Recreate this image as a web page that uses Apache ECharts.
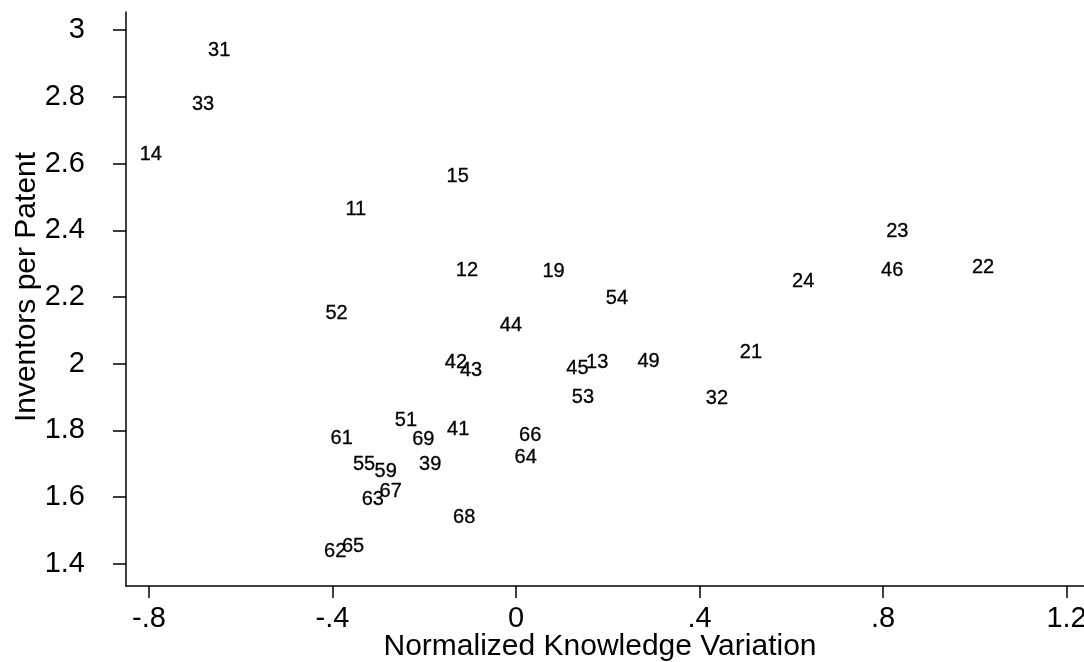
<!DOCTYPE html>
<html>
<head>
<meta charset="utf-8">
<script src="https://cdn.jsdelivr.net/npm/echarts@6/dist/echarts.min.js"></script>
<style>
html,body{margin:0;padding:0;background:#fff;}
#chart{width:1084px;height:662px;}
</style>
</head>
<body>
<div id="chart"></div>
<script>
// Industry/region labels
var labels = ['31','33','14','15','11','12','19','52','44','54','23','46','22','24','21',
  '42','43','45','13','49','53','32','51','61','69','41','66','64','55','59','39','63','67','68','62','65'];
// Normalized Knowledge Variation
var xValues = [-0.647,-0.682,-0.796,-0.127,-0.349,-0.107,0.082,-0.391,-0.011,0.220,0.831,0.820,1.018,0.626,0.512,
  -0.131,-0.098,0.134,0.177,0.289,0.146,0.438,-0.240,-0.380,-0.202,-0.126,0.031,0.021,-0.331,-0.284,-0.187,-0.312,-0.273,-0.113,-0.394,-0.355];
// Inventors per Patent
var yValues = [2.938,2.777,2.628,2.560,2.461,2.278,2.277,2.150,2.116,2.196,2.396,2.279,2.287,2.245,2.034,
  2.004,1.981,1.986,2.003,2.008,1.899,1.896,1.829,1.775,1.772,1.804,1.784,1.718,1.699,1.677,1.697,1.594,1.617,1.540,1.437,1.452];
var xTicks = [-0.8,-0.4,0,0.4,0.8,1.2];
var xTickLabels = ['-.8','-.4','0','.4','.8','1.2'];
var yTicks = [1.4,1.6,1.8,2,2.2,2.4,2.6,2.8,3];
var yTickLabels = ['1.4','1.6','1.8','2','2.2','2.4','2.6','2.8','3'];

var FONT = '"Liberation Sans", Arial, Helvetica, sans-serif';
var data = labels.map(function(l,i){ return {value:[xValues[i], yValues[i]], name:l}; });

function fmt(ticks, lbls){
  return function(v){
    for (var i=0;i<ticks.length;i++){ if (Math.abs(ticks[i]-v)<1e-6) return lbls[i]; }
    return '';
  };
}

var chart = echarts.init(document.getElementById('chart'), null, {renderer:'canvas'});
chart.setOption({
  animation:false,
  backgroundColor:'#fff',
  grid:{left:126, right:0, top:12, bottom:76, containLabel:false, outerBoundsMode:'none'},
  xAxis:{
    type:'value', min:-0.850, max:1.238,
    name:'Normalized Knowledge Variation', nameLocation:'middle', nameGap:46, nameMoveOverlap:false,
    nameTextStyle:{color:'#000', fontSize:30, fontFamily:FONT, padding:[0,10,0,0]},
    axisLine:{show:true, onZero:false, lineStyle:{color:'#000', width:1.5}},
    axisTick:{show:true, length:12, customValues:xTicks, lineStyle:{color:'#000', width:1.5}},
    axisLabel:{show:true, customValues:xTicks, formatter:fmt(xTicks,xTickLabels), color:'#000', fontSize:29, fontFamily:FONT, margin:18},
    splitLine:{show:false}
  },
  yAxis:{
    type:'value', min:1.334, max:3.054,
    name:'Inventors per Patent', nameLocation:'middle', nameGap:84, nameRotate:90, nameMoveOverlap:false,
    nameTextStyle:{color:'#000', fontSize:30, fontFamily:FONT, padding:[0,0,0,24]},
    axisLine:{show:true, onZero:false, lineStyle:{color:'#000', width:1.5}},
    axisTick:{show:true, length:13, customValues:yTicks, lineStyle:{color:'#000', width:1.5}},
    axisLabel:{show:true, customValues:yTicks, formatter:fmt(yTicks,yTickLabels), color:'#000', fontSize:29, fontFamily:FONT, margin:41},
    splitLine:{show:false}
  },
  series:[{
    type:'scatter',
    data:data,
    symbolSize:1,
    itemStyle:{color:'rgba(0,0,0,0)', opacity:1},
    label:{show:true, position:'inside', formatter:function(p){return p.name;}, color:'#000', opacity:1, fontSize:20, fontFamily:FONT,
      textBorderColor:'#000', textBorderWidth:0.3},
    labelLayout:{hideOverlap:false},
    emphasis:{disabled:true}
  }]
});
</script>
</body>
</html>
